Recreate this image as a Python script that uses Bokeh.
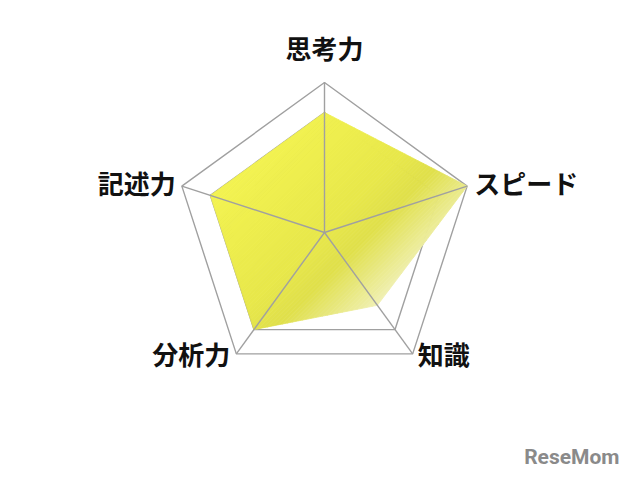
import numpy as np
from bokeh.plotting import figure
from bokeh.models import ColumnDataSource
from bokeh.core.properties import value
from bokeh.embed import file_html
from bokeh.resources import INLINE

# ---- data ----
categories = ["思考力", "スピード", "知識", "分析力", "記述力"]
scores = [0.8, 1.0, 0.6, 0.8, 0.8]
grid_levels = [0.8, 1.0]

# gradient stops (position along upper-left -> lower-right, colour)
grad_pos = [-0.75, 0.0, 0.22, 0.62]
grad_col = [(0xf4, 0xf4, 0x52), (0xe8, 0xe8, 0x4a), (0xe0, 0xe0, 0x4a), (0xf2, 0xf2, 0xbc)]

W, H = 624, 471
SCALE = 150.0
cx_px, cy_px = 324, 232  # centre within figure

p = figure(width=W, height=H, output_backend="svg", toolbar_location=None,
           x_range=(-cx_px / SCALE, (W - cx_px) / SCALE),
           y_range=(-(H - cy_px) / SCALE, cy_px / SCALE),
           min_border=0, outline_line_color=None)
p.axis.visible = False
p.grid.visible = False
p.background_fill_color = "white"

n = len(categories)
ang = np.pi / 2 - 2 * np.pi * np.arange(n) / n
ux, uy = np.cos(ang), np.sin(ang)

GRID = "#a0a0a0"
# grid pentagons (below fill)
for lv in grid_levels:
    xs = list(ux * lv) + [ux[0] * lv]
    ys = list(uy * lv) + [uy[0] * lv]
    p.line(xs, ys, line_color=GRID, line_width=1.4)

# data polygon with gradient approximated by bands
sv = np.array(scores)
poly = np.column_stack([ux * sv, uy * sv])
d = np.array([1.0, -1.0]) / np.sqrt(2)


def clip(poly, a, keep_ge):
    out = []
    m = len(poly)
    for i in range(m):
        P, Q = poly[i], poly[(i + 1) % m]
        sp, sq = P @ d - a, Q @ d - a
        if not keep_ge:
            sp, sq = -sp, -sq
        inP, inQ = sp >= 0, sq >= 0
        if inP:
            out.append(P)
        if inP != inQ:
            t = sp / (sp - sq)
            out.append(P + t * (Q - P))
    return np.array(out) if out else np.zeros((0, 2))


def colour_at(s):
    r = np.interp(s, grad_pos, [c[0] for c in grad_col])
    g = np.interp(s, grad_pos, [c[1] for c in grad_col])
    b = np.interp(s, grad_pos, [c[2] for c in grad_col])
    return "#%02x%02x%02x" % (int(r), int(g), int(b))


svals = poly @ d
edges = np.linspace(svals.min() - 1e-6, svals.max() + 1e-6, 70)
bx, by, bc = [], [], []
for a, b in zip(edges[:-1], edges[1:]):
    q = clip(poly, a, True)
    if len(q) < 3:
        continue
    q = clip(q, b, False)
    if len(q) < 3:
        continue
    bx.append(list(q[:, 0]))
    by.append(list(q[:, 1]))
    bc.append(colour_at((a + b) / 2))
p.patches(bx, by, fill_color=bc, line_color=bc, line_width=0.8)

# spokes (above fill)
for i in range(n):
    p.line([0, ux[i]], [0, uy[i]], line_color=GRID, line_width=1.4)

# labels
lab_x_off = [0, 7, 5, -6, -6]
lab_y_off = [-35, -4, 0, 0, -4]
aligns = ["center", "left", "left", "right", "right"]
src = ColumnDataSource(dict(x=ux, y=uy, t=categories, xo=lab_x_off, yo=lab_y_off, al=aligns))
p.text(x="x", y="y", text="t", x_offset="xo", y_offset="yo", text_align="al",
       text_baseline="middle", text_font=value("Noto Sans CJK JP"),
       text_font_style="bold", text_font_size="26px", text_color="#111111", source=src)

# watermark
p.text(x=[(619 - cx_px) / SCALE], y=[(cy_px - 468) / SCALE], text=["ReseMom"],
       text_align="right", text_baseline="bottom", text_font=value("Roboto"),
       text_font_style="bold", text_font_size="21px", text_color="#8a8a8a")

open("out.html", "w").write(file_html(p, INLINE))
